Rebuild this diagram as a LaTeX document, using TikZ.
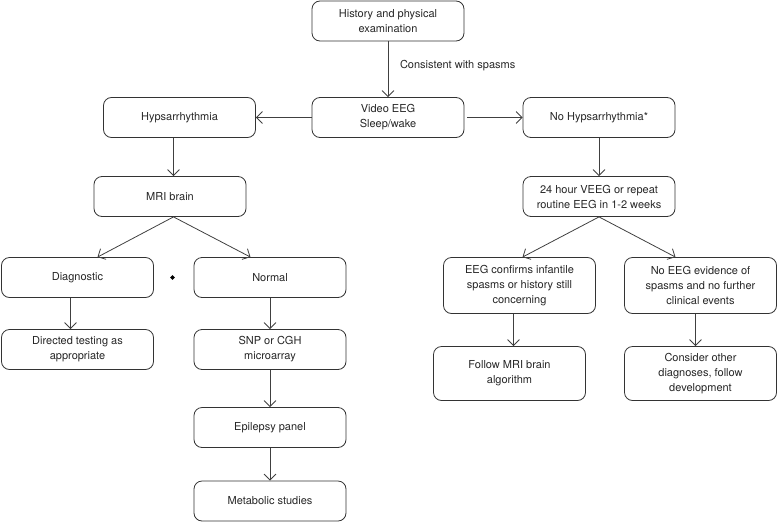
\documentclass[tikz,border=0pt]{standalone}
\usepackage{fontspec}
\setmainfont{TeX Gyre Heros}
\usetikzlibrary{shapes,arrows.meta,positioning}

\begin{document}
\begin{tikzpicture}[x=1pt, y=-1pt, font=\fontsize{11}{15}\selectfont, text=black!85]
    % Define styles
    \tikzstyle{box} = [rectangle, rounded corners=8pt, draw=black!80, line width=0.8pt, minimum width=152pt, minimum height=40pt, align=center, inner sep=2pt]
    \tikzstyle{tallbox} = [box, minimum height=56pt]
    \tikzstyle{midbox} = [box, minimum height=54pt]
    \tikzstyle{arrow} = [draw=black!75, line width=0.8pt, -{Straight Barb[length=6pt, width=12pt]}]

    \useasboundingbox (-0.5,-0.5) rectangle (777.5,521.5);

    % Top of the chart
    \node [box] (history) at (387.5,20.5) {History and physical\\examination};
    \node [box, below of=history, node distance=96.5pt] (video) {Video EEG\\Sleep/wake};
    \node [box, left of=video, node distance=208.5pt] (hyps) {Hypsarrhythmia};
    \node [box, right of=video, node distance=211pt] (nohyps) {No Hypsarrhythmia*};
    \node [anchor=west] (consistent) at (396,65) {Consistent with spasms};

    % Left branch
    \node [box] (mri) at (169.5,196) {MRI brain};
    \node [box] (diag) at (77,277) {Diagnostic};
    \node [box, right of=diag, node distance=192.5pt] (normal) {Normal};
    \node [diamond, fill=black, inner sep=0pt, minimum size=5pt] (dot) at (172,277) {};
    \node [box, below of=diag, node distance=72pt] (directed) {Directed testing as\\appropriate};
    \node [box, below of=normal, node distance=72pt] (snp) {SNP or CGH\\microarray};
    \node [box, below of=snp, node distance=78pt] (panel) {Epilepsy panel};
    \node [box, below of=panel, node distance=73.5pt] (metab) {Metabolic studies};

    % Right branch
    \node [box, below of=nohyps, node distance=79pt] (veeg) {24 hour VEEG or repeat\\routine EEG in 1-2 weeks};
    \node [tallbox] (confirms) at (519,285) {EEG confirms infantile\\spasms or history still\\concerning};
    \node [tallbox, right of=confirms, node distance=181pt] (noevid) {No EEG evidence of\\spasms and no further\\clinical events};
    \node [midbox] (follow) at (509,373) {Follow MRI brain\\algorithm};
    \node [midbox, below of=noevid, node distance=88pt] (consider) {Consider other\\diagnoses, follow\\development};

    % Arrows
    \draw [arrow] (history) -- (video);
    \draw [arrow] (video) -- (hyps);
    \draw [arrow] ([xshift=3pt]video.east) -- (nohyps);
    \draw [arrow] ([xshift=-6pt]hyps.south) -- ([xshift=-6pt]hyps.south |- mri.north);
    \draw [arrow] ([xshift=3.5pt]mri.south) -- ([xshift=20pt]diag.north);
    \draw [arrow] ([xshift=3.5pt]mri.south) -- ([xshift=-19.5pt]normal.north);
    \draw [arrow] ([xshift=-7pt]diag.south) -- ([xshift=-7pt]directed.north);
    \draw [arrow] (normal) -- (snp);
    \draw [arrow] (snp) -- (panel);
    \draw [arrow] (panel) -- (metab);
    \draw [arrow] (nohyps) -- (veeg);
    \draw [arrow] (veeg.south) -- ([xshift=3pt]confirms.north);
    \draw [arrow] (veeg.south) -- ([xshift=-25pt]noevid.north);
    \draw [arrow] ([xshift=-6pt]confirms.south) -- ([xshift=-6pt]confirms.south |- follow.north);
    \draw [arrow] ([xshift=-5pt]noevid.south) -- ([xshift=-5pt]consider.north);
\end{tikzpicture}
\end{document}
